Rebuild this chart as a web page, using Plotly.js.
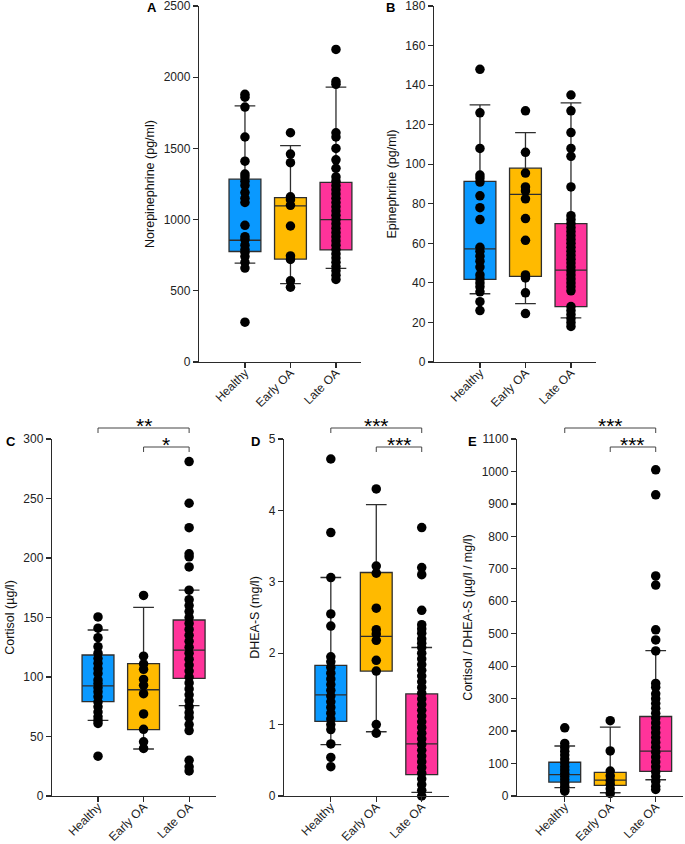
<!DOCTYPE html>
<html>
<head>
<meta charset="utf-8">
<script src="https://cdn.plot.ly/plotly-3.0.1.min.js"></script>
<style>html,body{margin:0;padding:0;background:#fff;}#chart{width:685px;height:844px;}</style>
</head>
<body>
<div id="chart"></div>
<script>
// ---------- categories ----------
const groups = ['Healthy', 'Early OA', 'Late OA'];
const groupColors = ['#0a99ff', '#ffba00', '#ff339a'];

// ---------- A: Norepinephrine (pg/ml) ----------
const norHealthy = [1880, 1860, 1790, 1580, 1410, 1320, 1300, 1270, 1240, 1190, 1150, 1120, 960, 880, 860, 820, 790, 770, 740, 700, 660, 280];
const norEarly = [1610, 1460, 1400, 1160, 1140, 1100, 955, 745, 720, 570, 525];
const norLate = [2195, 1970, 1950, 1610, 1580, 1500, 1420, 1360, 1300, 1270, 1240, 1210, 1180, 1150, 1120, 1090, 1060, 1030, 1000, 970, 940, 910, 880, 850, 820, 790, 760, 730, 700, 670, 640, 610, 580];
const norQ1 = [776, 723, 787];
const norMedian = [855, 1097, 1000];
const norQ3 = [1284, 1155, 1262];
const norLow = [695, 550, 658];
const norHigh = [1798, 1520, 1930];

// ---------- B: Epinephrine (pg/ml) ----------
const epiHealthy = [148, 126, 108, 94.5, 93, 91, 84, 78, 72, 58, 56, 53.5, 51, 48, 44, 42, 40, 38, 35.5, 30.5, 26];
const epiEarly = [127, 106, 95.5, 88.5, 86.5, 82.5, 72.5, 61.5, 44, 42.5, 35, 24.5];
const epiLate = [135, 127, 116, 108, 104, 88.5, 74, 72, 70, 68, 66, 64, 62, 60, 58, 56, 54, 52, 50, 48, 46, 44, 42, 40, 38, 36, 28, 26, 24, 22, 20, 18];
const epiQ1 = [41.8, 43.3, 28];
const epiMedian = [57.2, 84.8, 46.5];
const epiQ3 = [91.3, 98, 70];
const epiLow = [34.5, 29.5, 22.3];
const epiHigh = [130, 116, 131];

// ---------- C: Cortisol (µg/l) ----------
const corHealthy = [150.5, 141, 133, 125.5, 120, 115.5, 111.5, 107, 103, 97.5, 94.5, 91, 87.5, 83.5, 79, 75, 70.5, 66.5, 63.5, 61, 33.5];
const corEarly = [168.5, 117.5, 111, 106.5, 98, 93, 86, 69, 56, 45.5, 40];
const corLate = [281, 246, 225.5, 203.5, 201, 192.5, 173, 165, 160, 155, 150, 145, 140, 135, 130, 125, 120, 115, 110, 105, 100, 95, 90, 85, 80, 75, 70, 66, 60, 55, 30, 24.5, 21];
const corQ1 = [79.3, 55.8, 98.8];
const corMedian = [92.5, 89.3, 122.5];
const corQ3 = [118.5, 111.3, 147.9];
const corLow = [63.5, 39.5, 76];
const corHigh = [139.5, 158.5, 173];

// ---------- D: DHEA-S (mg/l) ----------
const dheHealthy = [4.72, 3.69, 3.06, 2.55, 2.38, 1.95, 1.88, 1.8, 1.72, 1.64, 1.56, 1.48, 1.4, 1.32, 1.24, 1.16, 1.08, 1.0, 0.93, 0.73, 0.54, 0.41];
const dheEarly = [4.3, 3.22, 3.12, 2.63, 2.33, 2.27, 2.18, 1.9, 1.75, 1.0, 0.88];
const dheLate = [3.76, 3.2, 3.1, 2.6, 2.4, 2.34, 2.28, 2.2, 2.14, 2.08, 2.0, 1.92, 1.84, 1.76, 1.68, 1.6, 1.52, 1.44, 1.36, 1.28, 1.2, 1.12, 1.04, 0.96, 0.88, 0.8, 0.72, 0.64, 0.56, 0.48, 0.4, 0.32, 0.24, 0.16, 0.08, 0.0];
const dheQ1 = [1.045, 1.75, 0.3];
const dheMedian = [1.415, 2.235, 0.73];
const dheQ3 = [1.83, 3.13, 1.43];
const dheLow = [0.72, 0.9, 0.05];
const dheHigh = [3.06, 4.08, 2.08];

// ---------- E: Cortisol / DHEA-S ----------
const ratHealthy = [210, 162, 150, 138, 126, 114, 102, 90, 80, 70, 60, 50, 40, 30, 20, 15];
const ratEarly = [232, 139, 77, 62, 48, 36, 22, 8];
const ratLate = [1005, 928, 678, 650, 512, 481, 447, 347, 335, 315, 300, 285, 270, 255, 240, 225, 210, 195, 180, 165, 150, 135, 120, 105, 90, 75, 60, 45, 30, 20];
const ratQ1 = [43, 33, 76];
const ratMedian = [66, 49, 138];
const ratQ3 = [104, 73, 245];
const ratLow = [26, 10, 50];
const ratHigh = [154, 212, 448];

// ---------- tick labels / titles ----------
const panelLetters = ['A', 'B', 'C', 'D', 'E'];
const yTitles = ['Norepinephrine (pg/ml)', 'Epinephrine (pg/ml)', 'Cortisol (µg/l)', 'DHEA-S (mg/l)', 'Cortisol / DHEA-S (µg/l / mg/l)'];
const yMax = [2500, 180, 300, 5, 1100];
const yStep = [500, 20, 50, 1, 100];
const sigLabels = [['**', '*'], ['***', '***'], ['***', '***']];

// ---------- layout geometry (pixels) ----------
const W = 685, H = 844;
const frames = [
  {x0: 199, x1: 361, y0: 6, y1: 362, r: [-1.01, 2.55]},
  {x0: 434, x1: 596, y0: 6, y1: 362, r: [-1.01, 2.55]},
  {x0: 52, x1: 216, y0: 439, y1: 796, r: [-1.01, 2.59]},
  {x0: 284, x1: 449, y0: 439, y1: 796, r: [-1.03, 2.6]},
  {x0: 517, x1: 683, y0: 439, y1: 796, r: [-1.05, 2.6]}
];
const letterPos = [[145, 8], [384, 8], [4, 441], [249, 441], [466, 441]];

const panels = [
  {dots: [norHealthy, norEarly, norLate], q1: norQ1, med: norMedian, q3: norQ3, lo: norLow, hi: norHigh},
  {dots: [epiHealthy, epiEarly, epiLate], q1: epiQ1, med: epiMedian, q3: epiQ3, lo: epiLow, hi: epiHigh},
  {dots: [corHealthy, corEarly, corLate], q1: corQ1, med: corMedian, q3: corQ3, lo: corLow, hi: corHigh},
  {dots: [dheHealthy, dheEarly, dheLate], q1: dheQ1, med: dheMedian, q3: dheQ3, lo: dheLow, hi: dheHigh},
  {dots: [ratHealthy, ratEarly, ratLate], q1: ratQ1, med: ratMedian, q3: ratQ3, lo: ratLow, hi: ratHigh}
];

const FONT = 'Liberation Sans, Arial, sans-serif';
const AX = '#2a2a2a';
const data = [];
const layout = {
  width: W, height: H,
  margin: {l: 0, r: 0, t: 0, b: 0},
  paper_bgcolor: '#fff', plot_bgcolor: '#fff',
  showlegend: false,
  boxmode: 'overlay',
  font: {family: FONT, size: 12, color: '#222'},
  shapes: [], annotations: []
};

panels.forEach((p, k) => {
  const n = k === 0 ? '' : String(k + 1);
  const xa = 'x' + n, ya = 'y' + n;
  const f = frames[k];
  groups.forEach((g, i) => {
    data.push({
      type: 'box', xaxis: xa, yaxis: ya,
      x: [g], q1: [p.q1[i]], median: [p.med[i]], q3: [p.q3[i]],
      lowerfence: [p.lo[i]], upperfence: [p.hi[i]],
      boxpoints: false, width: 0.7, whiskerwidth: 0.65,
      fillcolor: groupColors[i],
      line: {color: '#2e2e2e', width: 1.3},
      hoverinfo: 'skip'
    });
  });
  groups.forEach((g, i) => {
    data.push({
      type: 'scatter', mode: 'markers', xaxis: xa, yaxis: ya,
      x: p.dots[i].map(() => g), y: p.dots[i],
      marker: {color: '#000', size: 9.5},
      cliponaxis: false, hoverinfo: 'skip'
    });
  });
  layout['xaxis' + n] = {
    domain: [f.x0 / W, f.x1 / W], anchor: ya,
    type: 'category', categoryorder: 'array', categoryarray: groups,
    range: f.r, fixedrange: true,
    showgrid: false, zeroline: false, showline: true, linecolor: AX, linewidth: 1.2,
    ticks: 'outside', ticklen: 5, tickcolor: AX, tickwidth: 1.2,
    tickangle: -45, ticklabelstandoff: -7, ticklabeloverflow: 'allow',
    tickfont: {family: FONT, size: 12, color: '#222'}
  };
  layout['yaxis' + n] = {
    domain: [1 - f.y1 / H, 1 - f.y0 / H], anchor: xa,
    range: [0, yMax[k]], dtick: yStep[k], tick0: 0, fixedrange: true,
    showgrid: false, zeroline: false, showline: true, linecolor: AX, linewidth: 1.2,
    ticks: 'outside', ticklen: 5, tickcolor: AX, tickwidth: 1.2,
    ticklabeloverflow: 'allow',
    tickfont: {family: FONT, size: 12, color: '#222'},
    title: {text: yTitles[k], font: {family: FONT, size: 12.5, color: '#111'}, standoff: 6}
  };
  layout.annotations.push({
    xref: 'paper', yref: 'paper', x: letterPos[k][0] / W, y: 1 - letterPos[k][1] / H,
    xanchor: 'left', yanchor: 'middle', showarrow: false,
    text: '<b>' + panelLetters[k] + '</b>', font: {family: FONT, size: 13, color: '#000'}
  });
});

// significance brackets for C, D, E
const bracketRows = [428, 447];
const bracketSpans = [[0, 2], [1, 2]];
[2, 3, 4].forEach((k, j) => {
  const n = String(k + 1);
  const f = frames[k];
  const dx = i => (i - f.r[0]) / (f.r[1] - f.r[0]);
  const dy = px => (f.y1 - px) / (f.y1 - f.y0);
  bracketRows.forEach((py, b) => {
    const [a, c] = bracketSpans[b];
    const base = {xref: 'x' + n + ' domain', yref: 'y' + n + ' domain', type: 'line', line: {color: '#444', width: 1}};
    layout.shapes.push(Object.assign({}, base, {x0: dx(a), x1: dx(c), y0: dy(py), y1: dy(py)}));
    layout.shapes.push(Object.assign({}, base, {x0: dx(a), x1: dx(a), y0: dy(py), y1: dy(py + 5)}));
    layout.shapes.push(Object.assign({}, base, {x0: dx(c), x1: dx(c), y0: dy(py), y1: dy(py + 5)}));
    layout.annotations.push({
      xref: 'x' + n + ' domain', yref: 'y' + n + ' domain',
      x: dx((a + c) / 2), y: dy(py - 15), xanchor: 'center', yanchor: 'top',
      showarrow: false, text: sigLabels[j][b], borderpad: 0,
      font: {family: FONT, size: 21, color: '#000'}
    });
  });
});

Plotly.newPlot('chart', data, layout, {staticPlot: true, displayModeBar: false});
</script>
</body>
</html>
